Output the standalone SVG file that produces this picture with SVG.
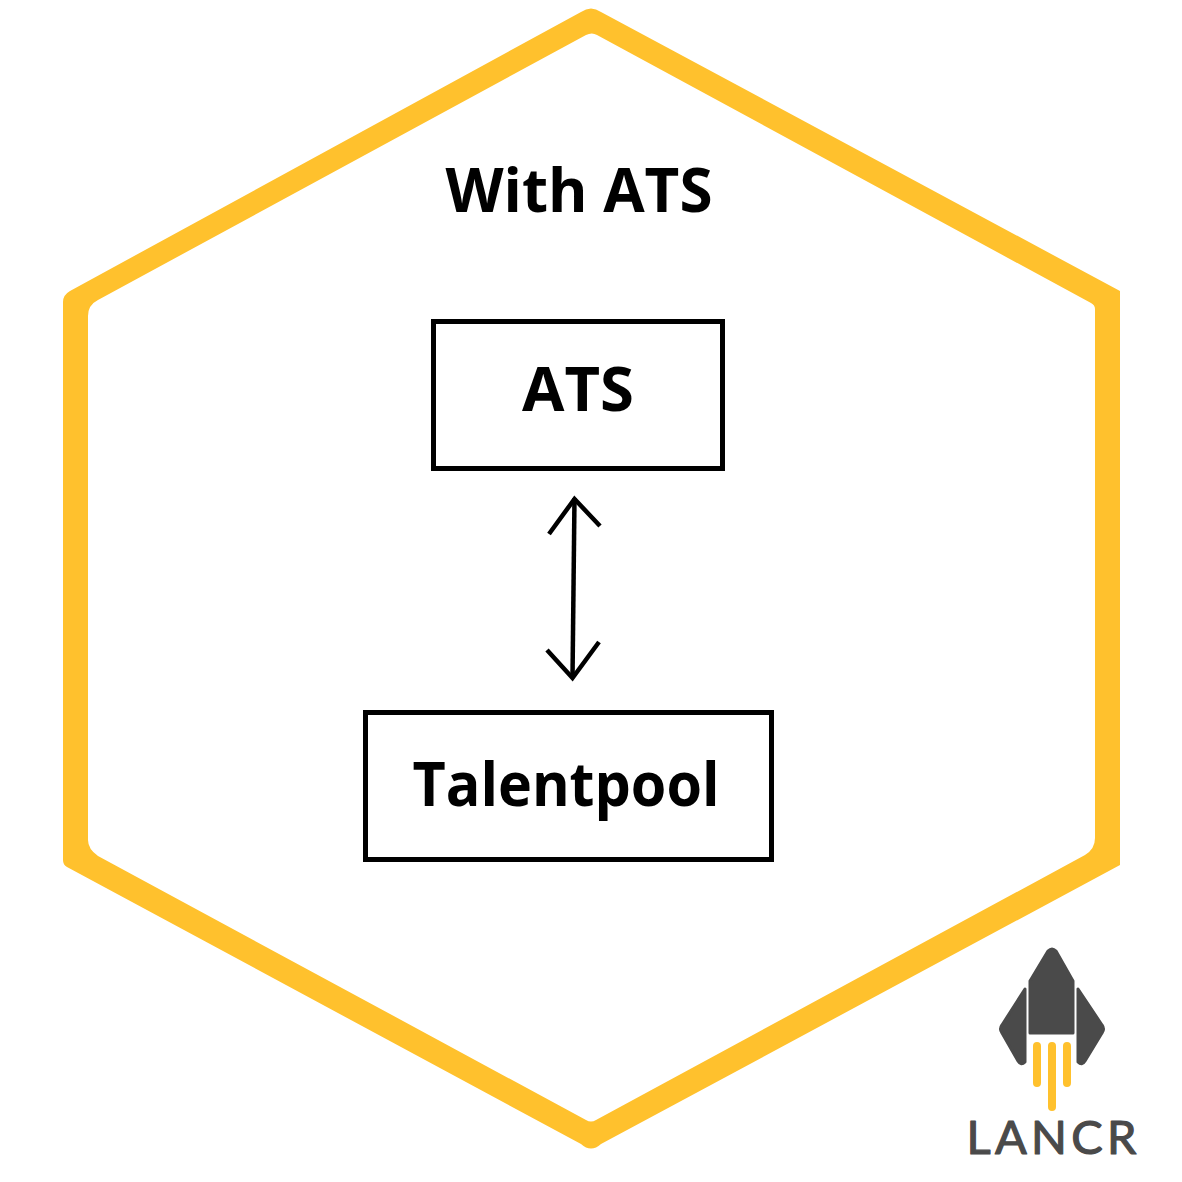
<svg xmlns="http://www.w3.org/2000/svg" width="1182" height="1182" viewBox="0 0 1182 1182">
<style>
.t{font-family:"Open Sans","Noto Sans",sans-serif;font-weight:700;fill:#000;text-anchor:middle}
.box{fill:#fff;stroke:#000;stroke-width:5}
.conn{fill:none;stroke:#000;stroke-width:4.500;stroke-linecap:butt;stroke-linejoin:miter}
.flame{stroke:#ffc12d;stroke-width:8;stroke-linecap:round;fill:none}
.dark{fill:#4a4a4a;stroke:#4a4a4a;stroke-width:3;stroke-linejoin:round}
</style>
<rect width="1182" height="1182" fill="#fff"/>
<g id="hexagon">
<path fill="#ffc12d" fill-rule="evenodd" d="M581 12Q591 5 601 12L1120 291V865L601 1144Q591 1153 581 1144L67 867Q63 865 63 860V302Q63 295 70 291ZM586 35L98 300Q88 305 88 316V840Q88 849 98 856L586 1120Q591 1123 596 1120L1085 855Q1095 849 1095 838V309Q1095 305 1091 303L597 35Q592 32 586 35Z"/>
</g>
<text id="title" class="t" x="579" y="212" font-size="60" textLength="267" lengthAdjust="spacingAndGlyphs">With ATS</text>
<g id="node-ats">
<rect class="box" x="433.500" y="321.500" width="289" height="147"/>
<text class="t" x="578" y="411" font-size="60" textLength="112" lengthAdjust="spacingAndGlyphs">ATS</text>
</g>
<g id="node-talentpool">
<rect class="box" x="365.500" y="712.500" width="406" height="147"/>
<text class="t" x="566" y="806" font-size="60" textLength="307" lengthAdjust="spacingAndGlyphs">Talentpool</text>
</g>
<g id="connectors">
<path class="conn" d="M574.500 498L572.500 678"/>
<path class="conn" d="M549 534L574.500 499L600 526"/>
<path class="conn" d="M547 650L572.500 678L599 642"/>
</g>
<g id="logo">
<path class="dark" d="M1048 951Q1052 947 1056 951L1073 981V1033H1030V981Z"/>
<path class="dark" d="M1025 989V1062Q1021 1066 1018 1061L1002 1033Q999 1029 1002 1025Z"/>
<path class="dark" d="M1078 989V1062Q1082 1066 1085 1061L1102 1033Q1105 1029 1102 1025Z"/>
<path class="flame" d="M1037 1046V1083M1067 1046V1083M1052 1046V1107"/>
<text x="1051.500" y="1154" font-family="Lato,'Open Sans',sans-serif" font-size="47" fill="#4a4a4a" stroke="#4a4a4a" stroke-width="1.200" stroke-linejoin="round" text-anchor="middle" textLength="170" lengthAdjust="spacing">LANCR</text>
</g>
</svg>
